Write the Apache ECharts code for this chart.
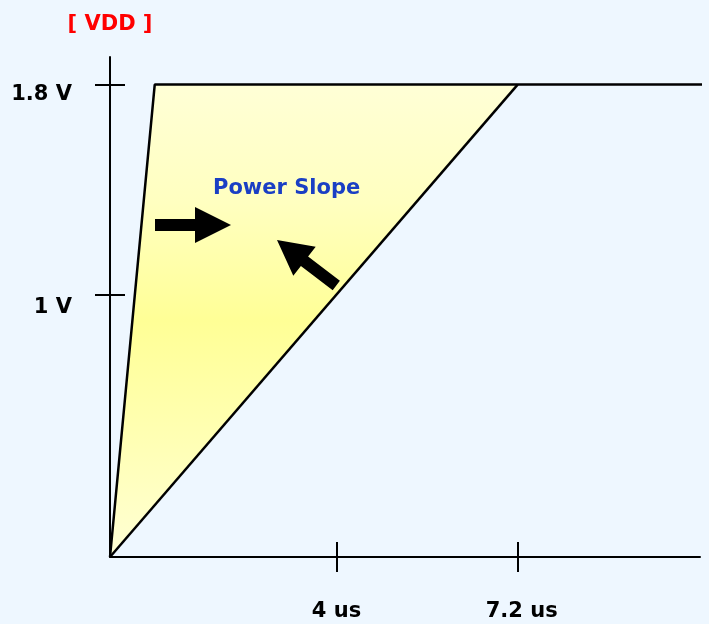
<!DOCTYPE html>
<html>
<head>
<meta charset="utf-8">
<script src="https://cdn.jsdelivr.net/npm/echarts@6/dist/echarts.min.js"></script>
<style>
  html, body { margin: 0; padding: 0; background: #EEF7FF; }
  #chart { width: 709px; height: 624px; }
</style>
</head>
<body>
<div id="chart"></div>
<script>
// Supply ramp: VDD rising to the 1.8 V rail, fastest and slowest allowed slopes (time in us)
const railVolts = 1.8;
const fastRamp = [[0, 0], [0.79, 1.8], [10.75, 1.8]];   // steep edge, then flat rail
const slowRamp = [[0, 0], [7.2, 1.8]];                  // slowest edge
const xTickValues = [4, 7.2];
const xTickLabels = ['4 us', '7.2 us'];
const yTickValues = [1, 1.8];
const yTickLabels = ['1 V', '1.8 V'];

const FONT = '"DejaVu Sans", Verdana, sans-serif';
const INK = '#000';

// region between the two ramps: fast edge up to where the slow edge meets the rail, back down the slow edge
const slopeRegion = [fastRamp[0], fastRamp[1], slowRamp[1]];

const chart = echarts.init(document.getElementById('chart'));

const tickStyle = { color: INK, width: 2 };
const xBase = {
  type: 'value', min: 0, max: 10.42, position: 'bottom',
  splitLine: { show: false },
  axisLine: { show: true, onZero: false, lineStyle: { color: INK, width: 2 } }
};
const yBase = {
  type: 'value', min: 0, max: 1.905, position: 'left',
  splitLine: { show: false },
  axisLine: { show: true, onZero: false, lineStyle: { color: INK, width: 2 } }
};
const labelText = { color: INK, fontFamily: FONT, fontWeight: 'bold', fontSize: 21 };

chart.setOption({
  backgroundColor: '#EEF7FF',
  animation: false,
  grid: { left: 110, right: 9, top: 57, bottom: 67 },
  xAxis: [
    Object.assign({}, xBase, {
      axisTick: { show: true, customValues: xTickValues, length: 15, lineStyle: tickStyle },
      axisLabel: {
        show: true, customValues: xTickValues, margin: 44,
        formatter: v => (v === 4 ? '{a|' : '{b|') + xTickLabels[xTickValues.indexOf(v)] + '}',
        rich: {
          a: Object.assign({}, labelText),
          b: Object.assign({ padding: [0, 0, 0, 8] }, labelText)
        }
      }
    }),
    Object.assign({}, xBase, {
      axisLine: { show: false },
      axisTick: { show: true, inside: true, customValues: xTickValues, length: 15, lineStyle: tickStyle },
      axisLabel: { show: false }
    })
  ],
  yAxis: [
    Object.assign({}, yBase, {
      name: '[ VDD ]',
      nameLocation: 'end',
      nameGap: 22,
      nameTextStyle: { color: '#FF0000', fontFamily: FONT, fontWeight: 'bold', fontSize: 21 },
      axisTick: { show: true, customValues: yTickValues, length: 15, lineStyle: tickStyle },
      axisLabel: {
        show: true, customValues: yTickValues, margin: 38,
        formatter: v => (v === 1 ? '{lo|' : '{hi|') + yTickLabels[yTickValues.indexOf(v)] + '}',
        rich: {
          hi: Object.assign({ padding: [20, 0, 0, 0] }, labelText),
          lo: Object.assign({ padding: [26, 0, 0, 0] }, labelText)
        }
      }
    }),
    Object.assign({}, yBase, {
      axisLine: { show: false },
      axisTick: { show: true, inside: true, customValues: yTickValues, length: 15, lineStyle: tickStyle },
      axisLabel: { show: false }
    })
  ],
  series: [
    {
      type: 'custom',
      coordinateSystem: 'cartesian2d',
      data: [0],
      silent: true,
      z: 1,
      renderItem: (params, api) => ({
        type: 'polygon',
        shape: { points: slopeRegion.map(p => api.coord(p)) },
        style: {
          fill: {
            type: 'linear', x: 0, y: 85, x2: 0, y2: 557, global: true,
            colorStops: [
              { offset: 0, color: '#FFFFD6' },
              { offset: 0.25, color: '#FFFFC0' },
              { offset: 0.5, color: '#FFFF96' },
              { offset: 0.72, color: '#FFFFB0' },
              { offset: 1, color: '#FFFFD4' }
            ]
          },
          stroke: 'none'
        }
      })
    },
    {
      type: 'line', data: fastRamp, symbol: 'none', clip: false, z: 3,
      lineStyle: { color: INK, width: 2.5 }
    },
    {
      type: 'line', data: slowRamp, symbol: 'none', clip: false, z: 3,
      lineStyle: { color: INK, width: 2.5 }
    }
  ],
  graphic: [
    {
      type: 'text', left: 213, top: 178, z: 10,
      style: { text: 'Power Slope', fill: '#1A3FC4', font: 'bold 21px ' + FONT }
    },
    {
      type: 'polygon', z: 10,
      shape: { points: [[155, 219], [195, 219], [195, 207], [231, 225], [195, 243], [195, 231], [155, 231]] },
      style: { fill: '#000' }
    },
    {
      type: 'polygon', z: 10,
      shape: { points: [[277, 240], [315.7, 246.7], [308.1, 256.4], [339.9, 280.7], [332.7, 290.3], [300.9, 266], [293.3, 275.7]] },
      style: { fill: '#000' }
    }
  ]
});
</script>
</body>
</html>
